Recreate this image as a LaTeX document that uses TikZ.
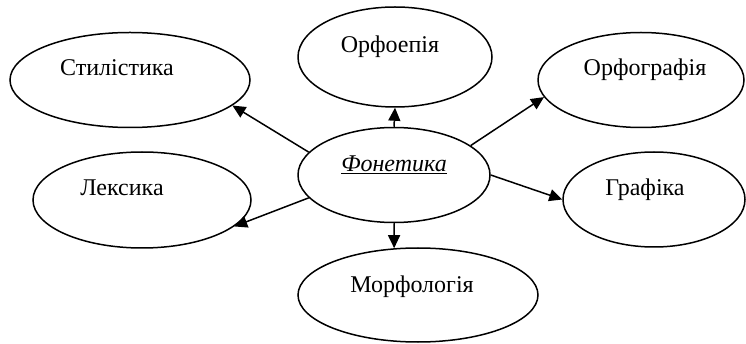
\documentclass[tikz,border=0pt]{standalone}
\usepackage{fontspec}
\setmainfont{Liberation Serif}
\usetikzlibrary{arrows.meta,shapes.geometric}

\begin{document}
\begin{tikzpicture}[x=1pt,y=-1pt,
  oval/.style={draw,ellipse,line width=1.5pt,inner sep=0pt},
  arr/.style={line width=1.5pt,-{Triangle[length=13pt,width=12pt]}},
  every label/.style={font=\fontsize{24}{28}\selectfont,
    text height=16pt,text depth=6pt,inner sep=0pt}]
  \useasboundingbox (0,0) rectangle (746,344);
  % the centre
  \node[oval,minimum width=192,minimum height=95,
    label={[yshift=8pt]center:\underline{\textit{Фонетика}}}] (fon) at (394,175) {};
  % the six around it
  \node[oval,minimum width=240,minimum height=95,
    label={[xshift=-13pt,yshift=9pt]center:Стилістика}] (stil) at (130,80) {};
  \node[oval,minimum width=194,minimum height=100,
    label={[xshift=-5pt,yshift=9pt]center:Орфоепія}] (orfoep) at (395,57) {};
  \node[oval,minimum width=206,minimum height=95,
    label={[xshift=4pt,yshift=9pt]center:Орфографія}] (orfogr) at (641,80) {};
  \node[oval,minimum width=218,minimum height=96,
    label={[xshift=-20pt,yshift=9pt]center:Лексика}] (leks) at (142,200) {};
  \node[oval,minimum width=182,minimum height=95,
    label={[xshift=-9pt,yshift=8.5pt]center:Графіка}] (graf) at (654,199.5) {};
  \node[oval,minimum width=240,minimum height=94,
    label={[xshift=-6pt,yshift=8pt]center:Морфологія}] (morf) at (418,295) {};
  % arrows
  \draw[arr] (fon.165) -- (stil.-14);
  \draw[arr] (fon.north) -- (orfoep.south);
  \draw[arr] (fon.21) -- (orfogr.190);
  \draw[arr] (fon.east) -- (graf.west);
  \draw[arr] (fon.195) -- (leks.-16);
  \draw[arr] (fon.south) -- (morf.117);
\end{tikzpicture}
\end{document}
